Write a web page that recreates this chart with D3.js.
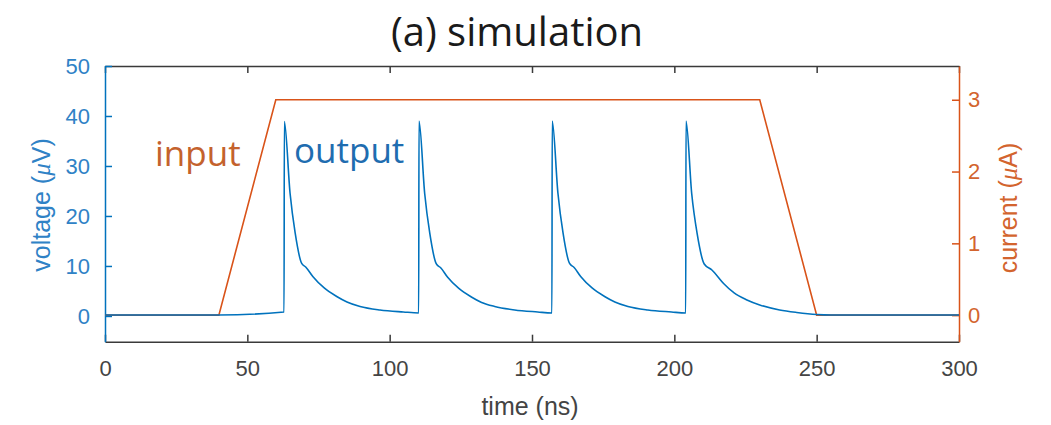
<!DOCTYPE html>
<html><head><meta charset="utf-8">
<script src="https://cdn.jsdelivr.net/npm/d3@7"></script>
<style>body{margin:0;background:#fff}svg{display:block}</style>
</head><body>
<svg id="c" width="1051" height="425"></svg>
<script>
// ---- data ----
const inputTime    = [0, 40, 60, 230, 250, 300];
const inputCurrent = [0, 0, 3, 3, 0, 0];

const outputTime = [0, 40, 62.9, 63.0, 65, 66.8, 69.1, 70.5, 73, 77, 81.4, 85, 89.6, 96.6, 104.8, 110.2,
  110.3, 112.3, 114.1, 116.4, 118, 120.3, 124.3, 128.7, 132.3, 136.9, 143.9, 152, 157.0,
  157.1, 159.1, 160.9, 163.2, 164.8, 167.1, 171.1, 175.5, 179.1, 183.7, 190.7, 199, 204.0,
  204.1, 206.1, 208, 210.5, 213.2, 217.3, 221, 225.5, 230, 237, 243, 250, 255, 300];
const outputVoltage = [0.2, 0.2, 0.8, 38.9, 24.6, 16.6, 10.5, 9.8, 7.9, 5.6, 3.9, 2.8, 1.9, 1.2, 0.8, 0.6,
  39.0, 24.5, 16.5, 10.4, 9.6, 7.8, 5.5, 3.8, 2.7, 1.9, 1.2, 0.8, 0.6,
  39.0, 24.6, 16.6, 10.5, 9.7, 7.9, 5.6, 3.9, 2.8, 1.9, 1.2, 0.8, 0.6,
  39.0, 24.5, 16.5, 10.4, 9.2, 6.5, 4.6, 3.2, 2.2, 1.2, 0.7, 0.3, 0.2, 0.2];

const xTicks = [0, 50, 100, 150, 200, 250, 300];
const leftTicks = [0, 10, 20, 30, 40, 50];
const rightTicks = [0, 1, 2, 3];

// ---- layout ----
const L = 105, R = 959, T = 66, B = 341.7;
const blue = "#0072BD", orange = "#D95319";
const blueText = "#2f82c6", orangeText = "#d3642e", grayText = "#444";

const svg = d3.select("#c");
const x = d3.scaleLinear().domain([0, 300]).range([L, R]);
const yL = d3.scaleLinear().domain([-5.15, 50]).range([B, T]);
const yR = d3.scaleLinear().domain([-0.37, 3.47]).range([B, T]);
const fmt = d3.format("d");

function style(g, color, textColor, size) {
  g.selectAll("path.domain").attr("stroke", color).attr("stroke-width", 1.5);
  g.selectAll(".tick line").attr("stroke", color).attr("stroke-width", 1.5);
  g.selectAll(".tick text").attr("fill", textColor).attr("font-size", size)
    .attr("font-family", "Liberation Sans, Arial, sans-serif");
}

// bottom axis
const gB = svg.append("g").attr("transform", `translate(0,${B})`)
  .call(d3.axisBottom(x).tickValues(xTicks).tickFormat(fmt).tickSizeInner(-7).tickSizeOuter(0).tickPadding(19));
style(gB, "#3a3a3a", grayText, 22);
// top axis
const gT = svg.append("g").attr("transform", `translate(0,${T})`)
  .call(d3.axisTop(x).tickValues(xTicks).tickSizeInner(-7).tickSizeOuter(0).tickFormat(""));
style(gT, "#3a3a3a", grayText, 22);
// left axis
const gL = svg.append("g").attr("transform", `translate(${L},0)`)
  .call(d3.axisLeft(yL).tickValues(leftTicks).tickFormat(fmt).tickSizeInner(-7).tickSizeOuter(0).tickPadding(15));
style(gL, blue, blueText, 22);
// right axis
const gR = svg.append("g").attr("transform", `translate(${R},0)`)
  .call(d3.axisRight(yR).tickValues(rightTicks).tickFormat(fmt).tickSizeInner(-7).tickSizeOuter(0).tickPadding(9));
style(gR, orange, orangeText, 22);

// lines
svg.append("clipPath").attr("id", "clip").append("rect")
  .attr("x", L).attr("y", T).attr("width", R - L).attr("height", B - T);

svg.append("path")
  .datum(inputTime.map((t, i) => [t, inputCurrent[i]]))
  .attr("clip-path", "url(#clip)")
  .attr("fill", "none").attr("stroke", orange).attr("stroke-width", 1.6)
  .attr("d", d3.line().x(d => x(d[0])).y(d => yR(d[1])));

svg.append("path")
  .datum(outputTime.map((t, i) => [t, outputVoltage[i]]))
  .attr("clip-path", "url(#clip)")
  .attr("fill", "none").attr("stroke", blue).attr("stroke-width", 1.6)
  .attr("stroke-linejoin", "round")
  .attr("d", d3.line().curve(d3.curveMonotoneX).x(d => x(d[0])).y(d => yL(d[1])));

// title
svg.append("text").attr("x", 517).attr("y", 46).attr("text-anchor", "middle")
  .attr("font-family", "Open Sans, sans-serif").attr("font-size", 40).attr("fill", "#1a1a1a")
  .text("(a) simulation");

// annotations
svg.append("text").attr("x", 155).attr("y", 166).attr("font-family", "Open Sans, sans-serif")
  .attr("font-size", 35).attr("fill", "#c4622d").text("input");
svg.append("text").attr("x", 294).attr("y", 163).attr("font-family", "Open Sans, sans-serif")
  .attr("font-size", 35).attr("fill", "#1f6db0").text("output");

// axis labels
svg.append("text").attr("x", 530).attr("y", 415).attr("text-anchor", "middle")
  .attr("font-family", "Liberation Sans, Arial, sans-serif").attr("font-size", 25).attr("fill", grayText)
  .text("time (ns)");

const vl = svg.append("text").attr("transform", "translate(50,205) rotate(-90)").attr("text-anchor", "middle")
  .attr("font-family", "Liberation Sans, Arial, sans-serif").attr("font-size", 25).attr("fill", blueText);
vl.append("tspan").text("voltage (");
vl.append("tspan").attr("font-family", "Liberation Serif, serif").attr("font-style", "italic").text("μ");
vl.append("tspan").text("V)");

const cl = svg.append("text").attr("transform", "translate(1017,208) rotate(-90)").attr("text-anchor", "middle")
  .attr("font-family", "Liberation Sans, Arial, sans-serif").attr("font-size", 25).attr("fill", orangeText);
cl.append("tspan").text("current (");
cl.append("tspan").attr("font-family", "Liberation Serif, serif").attr("font-style", "italic").text("μ");
cl.append("tspan").text("A)");
</script>
</body></html>
